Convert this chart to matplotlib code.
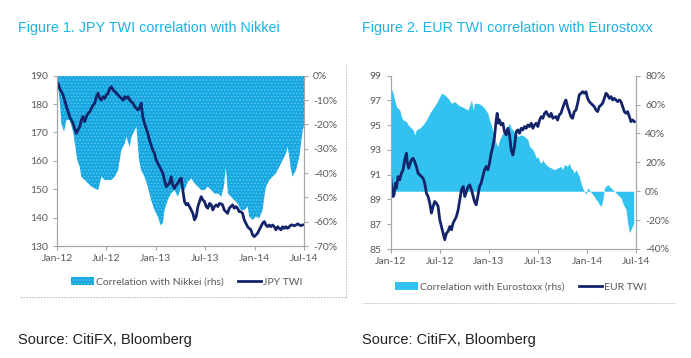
import matplotlib
matplotlib.use("Agg")
import matplotlib.pyplot as plt
from matplotlib.lines import Line2D
from matplotlib.patches import Patch
from matplotlib.ticker import FuncFormatter

# x positions are months since Jan-2012
jpy_m = [0.00, 0.12, 0.32, 0.53, 0.73, 0.93, 1.14, 1.34, 1.54, 1.74, 1.95, 2.15, 2.35, 2.55, 2.76,
         2.96, 3.16, 3.36, 3.57, 3.77, 3.97, 4.18, 4.38, 4.58, 4.78, 4.99, 5.19, 5.39, 5.59, 5.80,
         6.00, 6.20, 6.41, 6.61, 6.81, 7.01, 7.22, 7.42, 7.62, 7.82, 8.03, 8.23, 8.43, 8.63, 8.84,
         9.04, 9.24, 9.45, 9.65, 9.81, 10.01, 10.22, 10.42, 10.62, 10.82, 11.03, 11.23, 11.43, 11.64,
         11.84, 12.04, 12.24, 12.45, 12.65, 12.85, 13.05, 13.26, 13.46, 13.66, 13.86, 14.07, 14.27,
         14.47, 14.68, 14.88, 15.08, 15.28, 15.49, 15.69, 15.89, 16.09, 16.30, 16.50, 16.70, 16.91,
         17.11, 17.31, 17.51, 17.72, 17.92, 18.12, 18.32, 18.53, 18.73, 18.93, 19.13, 19.34, 19.54,
         19.74, 19.95, 20.11, 20.31, 20.51, 20.72, 20.92, 21.12, 21.32, 21.53, 21.73, 21.93, 22.13,
         22.34, 22.54, 22.74, 22.95, 23.15, 23.35, 23.55, 23.76, 23.96, 24.16, 24.36, 24.57, 24.77,
         24.97, 25.18, 25.38, 25.58, 25.78, 25.99, 26.19, 26.39, 26.59, 26.80, 27.00, 27.20, 27.41,
         27.61, 27.81, 28.01, 28.22, 28.42, 28.62, 28.82, 29.03, 29.23, 29.43, 29.63, 29.84]
jpy_twi = [186.7, 187.3, 185.5, 184.4, 183.2, 181.4, 179.1, 177.3, 175.6, 174.4, 173.2, 171.5, 169.7,
           170.9, 172.0, 174.4, 175.6, 173.8, 175.6, 176.7, 177.3, 178.5, 179.7, 180.3, 182.6, 183.8,
           182.0, 181.4, 182.6, 182.0, 183.2, 183.8, 185.5, 186.1, 185.0, 184.4, 183.8, 183.2, 182.6,
           182.0, 181.4, 182.6, 182.0, 182.6, 181.4, 180.8, 180.3, 179.1, 178.5, 177.9, 178.5, 180.3,
           175.6, 173.2, 171.5, 169.7, 167.3, 165.6, 163.8, 162.7, 160.3, 159.1, 158.0, 156.8, 155.6,
           153.3, 150.9, 151.5, 152.1, 154.4, 151.5, 150.3, 151.5, 152.1, 153.3, 153.9, 149.7, 145.6,
           144.5, 145.0, 143.9, 142.7, 141.5, 139.2, 140.4, 143.9, 145.6, 147.4, 146.2, 145.6, 143.9,
           143.3, 145.0, 144.5, 142.7, 143.9, 144.5, 143.9, 145.0, 144.8, 144.5, 142.7, 142.1, 141.5,
           143.3, 143.9, 144.5, 143.3, 143.9, 143.3, 142.1, 142.1, 141.5, 139.2, 138.0, 136.8, 136.2,
           135.7, 133.9, 133.3, 133.9, 134.5, 135.7, 136.8, 138.0, 138.6, 137.4, 136.8, 137.4, 136.8,
           137.4, 136.8, 135.7, 136.8, 136.2, 135.7, 136.8, 136.2, 136.8, 136.2, 136.8, 137.4, 137.4,
           137.1, 137.4, 137.8, 137.4, 137.2, 137.4]

nikkei_m = [0.08, 0.32, 0.53, 0.85, 1.14, 1.54, 1.95, 2.23, 2.47, 2.76, 2.96, 3.36, 3.77, 4.18, 4.58,
            4.99, 5.39, 5.80, 6.20, 6.61, 7.01, 7.42, 7.82, 8.23, 8.43, 8.84, 9.04, 9.45, 9.65, 9.97,
            10.22, 10.62, 11.03, 11.43, 11.84, 12.24, 12.57, 12.85, 13.05, 13.46, 13.86, 14.27, 14.68,
            15.08, 15.49, 15.89, 16.30, 16.70, 17.11, 17.51, 17.92, 18.32, 18.73, 19.13, 19.54, 19.95,
            20.27, 20.51, 20.76, 21.12, 21.53, 21.93, 22.34, 22.74, 23.15, 23.35, 23.76, 24.16, 24.57,
            24.97, 25.18, 25.38, 25.78, 26.19, 26.59, 27.00, 27.41, 27.81, 28.01, 28.22, 28.42, 28.62,
            29.03, 29.43, 29.84, 30.00]
nikkei_corr = [-3.2, -10.0, -19.6, -23.0, -18.2, -18.2, -23.0, -29.2, -34.7, -37.4, -41.5, -42.9,
               -44.2, -45.6, -46.3, -47.0, -41.5, -42.9, -42.9, -42.9, -41.5, -38.8, -30.5, -27.8,
               -25.1, -29.2, -25.1, -22.3, -21.0, -34.7, -38.8, -41.5, -45.6, -51.1, -55.2, -57.9,
               -61.4, -60.7, -55.2, -51.1, -48.4, -47.0, -49.7, -45.6, -47.0, -43.6, -42.2, -44.2,
               -45.6, -47.0, -47.0, -45.6, -47.0, -48.4, -48.4, -49.7, -45.6, -37.4, -48.4, -49.7,
               -51.1, -52.5, -55.2, -55.2, -53.8, -57.9, -59.3, -57.9, -58.6, -55.2, -49.7, -45.6,
               -42.9, -41.5, -40.1, -37.4, -34.7, -31.9, -29.2, -33.3, -38.8, -41.5, -38.8, -33.3,
               -22.3, -21.0]

eur_m = [0.00, 0.16, 0.29, 0.41, 0.57, 0.69, 0.90, 1.10, 1.31, 1.51, 1.71, 1.92, 2.04, 2.20, 2.33,
         2.53, 2.73, 2.94, 3.14, 3.35, 3.55, 3.76, 3.96, 4.16, 4.37, 4.57, 4.78, 4.98, 5.18, 5.39,
         5.59, 5.80, 6.00, 6.20, 6.41, 6.61, 6.82, 7.02, 7.23, 7.43, 7.63, 7.84, 8.04, 8.25, 8.45,
         8.65, 8.86, 9.06, 9.27, 9.47, 9.67, 9.88, 10.04, 10.25, 10.45, 10.65, 10.86, 11.06, 11.27,
         11.47, 11.67, 11.88, 12.08, 12.29, 12.49, 12.70, 12.90, 13.02, 13.19, 13.31, 13.51, 13.72,
         13.92, 14.12, 14.33, 14.53, 14.74, 14.94, 15.14, 15.35, 15.55, 15.76, 15.96, 16.16, 16.37,
         16.57, 16.78, 16.98, 17.19, 17.39, 17.59, 17.80, 18.00, 18.21, 18.41, 18.61, 18.82, 19.02,
         19.23, 19.43, 19.63, 19.84, 20.00, 20.21, 20.41, 20.61, 20.82, 21.02, 21.23, 21.43, 21.63,
         21.84, 22.04, 22.25, 22.45, 22.66, 22.86, 23.06, 23.27, 23.47, 23.68, 23.88, 24.08, 24.29,
         24.49, 24.70, 24.90, 25.10, 25.31, 25.51, 25.72, 25.92, 26.13, 26.33, 26.53, 26.74, 26.94,
         27.15, 27.35, 27.55, 27.76, 27.96, 28.17, 28.37, 28.57, 28.78, 28.98, 29.19, 29.39, 29.59,
         29.80]
eur_twi = [90.85, 89.78, 89.24, 89.38, 90.32, 89.91, 90.85, 90.59, 91.12, 91.39, 92.20, 92.74, 91.93,
           91.53, 91.80, 92.20, 92.33, 92.06, 91.66, 91.12, 90.99, 90.85, 90.72, 90.32, 89.51, 89.24,
           88.70, 87.90, 88.44, 88.84, 88.70, 88.44, 87.36, 86.82, 86.28, 85.75, 86.28, 86.42, 86.82,
           86.55, 87.09, 87.36, 87.63, 88.17, 88.97, 89.78, 90.05, 89.24, 89.65, 90.05, 90.18, 89.78,
           89.38, 88.84, 88.57, 89.24, 90.05, 90.32, 90.85, 91.39, 91.66, 91.39, 91.93, 92.74, 93.27,
           94.08, 95.42, 95.96, 95.16, 95.42, 95.02, 95.16, 94.48, 94.22, 94.75, 94.22, 93.01, 92.60,
           93.27, 94.48, 94.62, 94.35, 94.75, 94.62, 94.89, 94.75, 95.02, 94.89, 95.16, 94.75, 95.02,
           95.16, 94.89, 95.42, 95.69, 95.56, 95.96, 96.10, 95.83, 95.69, 95.96, 95.56, 95.64, 95.69,
           95.42, 95.83, 95.96, 96.37, 96.77, 97.04, 96.50, 96.10, 95.69, 95.56, 96.10, 96.23, 96.77,
           97.44, 97.58, 97.71, 97.58, 97.71, 97.17, 96.90, 96.77, 96.63, 96.50, 96.23, 96.10, 96.50,
           96.63, 96.77, 97.17, 97.58, 97.44, 97.17, 97.31, 97.04, 97.17, 97.04, 96.90, 97.04, 96.90,
           96.50, 96.10, 95.96, 96.10, 95.69, 95.29, 95.42, 95.29]

stoxx_m = [0.00, 0.29, 0.49, 0.69, 1.10, 1.31, 1.51, 1.92, 2.12, 2.53, 2.73, 2.94, 3.14, 3.55, 3.96,
           4.37, 4.78, 5.18, 5.59, 6.00, 6.20, 6.61, 7.02, 7.43, 7.84, 8.24, 8.65, 9.06, 9.47, 9.88,
           10.08, 10.25, 10.65, 11.06, 11.47, 11.88, 12.08, 12.29, 12.49, 12.70, 12.90, 13.10, 13.31,
           13.51, 13.92, 14.33, 14.53, 14.74, 14.94, 15.14, 15.55, 15.96, 16.37, 16.78, 16.98, 17.19,
           17.39, 17.59, 17.80, 18.00, 18.21, 18.41, 18.61, 18.82, 19.23, 19.63, 20.04, 20.41, 20.82,
           21.02, 21.23, 21.63, 21.84, 22.04, 22.25, 22.45, 22.66, 22.86, 23.06, 23.27, 23.47, 23.68,
           23.88, 24.08, 24.29, 24.70, 24.90, 25.10, 25.31, 25.51, 25.72, 25.92, 26.13, 26.33, 26.53,
           26.74, 26.94, 27.15, 27.35, 27.55, 27.76, 27.96, 28.17, 28.37, 28.57, 28.78, 28.98, 29.19,
           29.39, 29.59, 29.72]
stoxx_corr = [72.4, 67.8, 63.2, 58.6, 56.3, 51.7, 49.4, 48.3, 46.0, 43.7, 42.5, 39.1, 42.5, 43.7,
              46.0, 49.4, 54.0, 57.5, 60.9, 65.5, 67.8, 66.7, 64.4, 60.9, 62.1, 59.8, 58.6, 57.5,
              56.3, 63.2, 56.3, 60.9, 60.9, 59.8, 57.5, 54.0, 49.4, 46.0, 41.4, 37.9, 33.3, 31.0,
              35.6, 37.9, 42.5, 44.8, 47.1, 43.7, 42.5, 40.2, 37.9, 39.1, 37.9, 35.6, 31.0, 29.9,
              28.7, 26.4, 23.0, 24.1, 20.7, 19.5, 21.8, 19.5, 17.2, 16.1, 14.9, 16.1, 17.2, 14.9,
              18.4, 17.2, 19.5, 16.1, 14.9, 12.6, 14.9, 12.6, 10.3, 5.7, 2.3, 0.0, -2.3, 2.3, 1.1,
              -2.3, -3.5, -5.8, -6.9, -9.2, -10.3, -6.9, 2.3, 3.4, 4.6, 3.4, 2.3, 1.1, 0.0, -1.1,
              -2.3, -3.5, -4.6, -8.1, -10.3, -12.6, -21.8, -28.7, -26.4, -24.1, -21.8]

tick_months = [0, 6, 12, 18, 24, 30]
tick_labels = ['Jan-12', 'Jul-12', 'Jan-13', 'Jul-13', 'Jan-14', 'Jul-14']

W, H = 691, 358
CYAN_TITLE = '#1cb2e6'
NAVY = '#13246a'
GRID_GREY = '#a6a6a6'
TXT = '#595959'
TICK_FONT = 'Lato'
HEAD_FONT = 'Liberation Sans'

plt.rcParams['hatch.linewidth'] = 0.6
fig = plt.figure(figsize=(W / 100, H / 100), dpi=100)


def box(x0, y0, x1, y1):
    return [x0 / W, 1 - y1 / H, (x1 - x0) / W, (y1 - y0) / H]


def style(ax, axr):
    for a in (ax, axr):
        for s in a.spines.values():
            s.set_color(GRID_GREY)
            s.set_linewidth(0.8)
        a.spines['top'].set_visible(False)
        a.tick_params(colors=GRID_GREY, labelcolor=TXT, labelsize=7.5, length=3, width=0.8)
        for lab in a.get_yticklabels() + a.get_xticklabels():
            lab.set_fontfamily(TICK_FONT)
    ax.set_xlim(0, 30)
    ax.set_xticks(tick_months)
    ax.set_xticklabels(tick_labels, fontfamily=TICK_FONT)
    ax.tick_params(axis='x', pad=3)


pct = FuncFormatter(lambda v, _: f'{v:.0f}%')
leg_kw = dict(loc='center', ncol=2, frameon=False, prop={'family': TICK_FONT, 'size': 7.5},
              labelcolor=TXT, handlelength=2.2, handleheight=0.7, columnspacing=1.4,
              handletextpad=0.2)

# ---- Figure 1 ----
ax1 = fig.add_axes(box(57, 75.7, 304, 246))
ax1r = ax1.twinx()
ax1r.fill_between(nikkei_m, 0, nikkei_corr, facecolor='#17a6e0', edgecolor='#5dcbf3',
                  hatch='.....', linewidth=0)
ax1r.set_ylim(-70, 0)
ax1r.set_yticks(range(-70, 1, 10))
ax1r.yaxis.set_major_formatter(pct)
ax1.plot(jpy_m, jpy_twi, color=NAVY, lw=2.0)
ax1.set_ylim(130, 190)
ax1.set_yticks(range(130, 191, 10))
ax1.set_zorder(ax1r.get_zorder() + 1)
ax1.patch.set_visible(False)
style(ax1, ax1r)

h1 = [Patch(facecolor='#17a6e0', edgecolor='#5dcbf3', hatch='.....', linewidth=0),
      Line2D([], [], color=NAVY, lw=2.0)]
fig.legend(h1, ['Correlation with Nikkei (rhs)', 'JPY TWI'],
           bbox_to_anchor=(187 / W, 1 - 282 / H), **leg_kw)

# ---- Figure 2 ----
ax2 = fig.add_axes(box(390.7, 75.7, 636, 249))
ax2r = ax2.twinx()
ax2r.fill_between(stoxx_m, 0, stoxx_corr, color='#33c2f0', linewidth=0)
ax2r.set_ylim(-40, 80)
ax2r.set_yticks(range(-40, 81, 20))
ax2r.yaxis.set_major_formatter(pct)
ax2.plot(eur_m, eur_twi, color=NAVY, lw=2.0)
ax2.set_ylim(85, 99)
ax2.set_yticks(range(85, 100, 2))
ax2.set_zorder(ax2r.get_zorder() + 1)
ax2.patch.set_visible(False)
style(ax2, ax2r)

h2 = [Patch(facecolor='#33c2f0', linewidth=0), Line2D([], [], color=NAVY, lw=2.0)]
fig.legend(h2, ['Correlation with Eurostoxx (rhs)', 'EUR TWI'],
           bbox_to_anchor=(521 / W, 1 - 287 / H), **leg_kw)

# ---- titles, sources, separators ----
fig.text(18 / W, 1 - 28 / H, 'Figure 1. JPY TWI correlation with Nikkei', color=CYAN_TITLE,
         fontsize=10.4, family=HEAD_FONT, va='center')
fig.text(362 / W, 1 - 28 / H, 'Figure 2. EUR TWI correlation with Eurostoxx', color=CYAN_TITLE,
         fontsize=10.4, family=HEAD_FONT, va='center')
fig.text(18 / W, 1 - 340 / H, 'Source: CitiFX, Bloomberg', color='#222222',
         fontsize=10.5, family=HEAD_FONT, va='center')
fig.text(362 / W, 1 - 340 / H, 'Source: CitiFX, Bloomberg', color='#222222',
         fontsize=10.5, family=HEAD_FONT, va='center')

fig.add_artist(Line2D([20 / W, 346 / W], [1 - 297 / H] * 2, color='#b0b0b0', lw=0.6,
                      linestyle=(0, (2, 1.5))))
fig.add_artist(Line2D([346 / W] * 2, [1 - 65 / H, 1 - 297 / H], color='#b8b8b8', lw=0.6,
                      linestyle=(0, (2, 1.5))))
fig.add_artist(Line2D([363 / W, 675 / W], [1 - 303 / H] * 2, color='#b0b0b0', lw=0.6,
                      linestyle=(0, (1, 1))))

fig.savefig('out.png', dpi=100)
